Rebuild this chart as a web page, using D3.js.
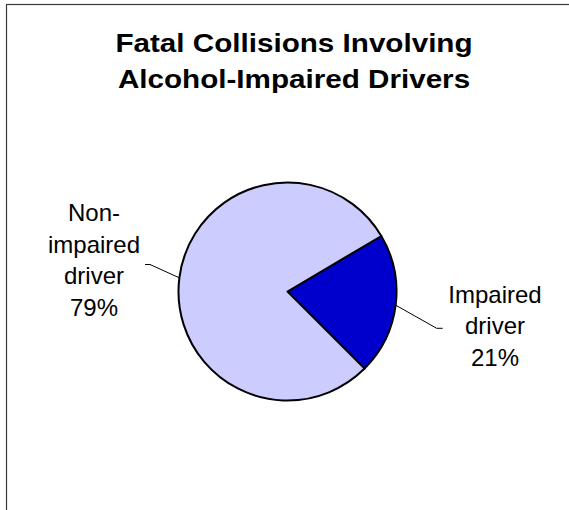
<!DOCTYPE html>
<html>
<head>
<meta charset="utf-8">
<script src="https://cdn.jsdelivr.net/npm/d3@7"></script>
<style>
  body { margin: 0; background: #fff; }
  text { font-family: Arial, "Liberation Sans", sans-serif; fill: #000; }
</style>
</head>
<body>
<svg></svg>
<script>
const size = {w: 569, h: 510};
const svg = d3.select('svg')
    .attr('width', size.w)
    .attr('height', size.h);

// data
const categories = ['Impaired driver', 'Non-impaired driver'];
const values = [21, 79];
const colors = ['#0000CC', '#CCCCFF'];
const titleLines = ['Fatal Collisions Involving', 'Alcohol-Impaired Drivers'];
const labelLines = [
    ['Impaired', 'driver', '21%'],
    ['Non-', 'impaired', 'driver', '79%']
];

// chart frame (runs off the right and bottom of the view)
svg.append('rect')
    .attr('x', 6.5).attr('y', 4.5)
    .attr('width', 700).attr('height', 700)
    .attr('fill', 'none')
    .attr('stroke', '#3a3a3a')
    .attr('stroke-width', 1.2);

// title, slightly stretched like the original
const titleG = svg.append('g');
titleLines.forEach((t, i) => {
    titleG.append('text')
        .attr('transform', `translate(294,${51.5 + i * 36}) scale(1.14,1)`)
        .attr('text-anchor', 'middle')
        .style('font-size', '26px')
        .style('font-weight', 'bold')
        .text(t);
});

// pie
const center = [287.5, 291.5];
const radius = 109;
const start = 59.4 * Math.PI / 180;

const pie = d3.pie()
    .sort(null)
    .startAngle(start)
    .endAngle(start + 2 * Math.PI);
const arcs = pie(values);

const arc = d3.arc().innerRadius(0).outerRadius(radius);
const edge = d3.arc().innerRadius(radius).outerRadius(radius);

const pieG = svg.append('g')
    .attr('transform', `translate(${center})`);

pieG.selectAll('path')
    .data(arcs)
    .join('path')
    .attr('d', arc)
    .attr('fill', (d, i) => colors[i])
    .attr('stroke', '#000')
    .attr('stroke-width', 2)
    .attr('stroke-linejoin', 'round');

// label placement (layout only)
const labelPos = [
    {x: 495, y: 302.5, lead: [[436.7, 328.3], [442.7, 328.3]]},
    {x: 94, y: 221, lead: [[150, 264.5], [145, 264.5]]}
];

const line = d3.line();
arcs.forEach((d, i) => {
    const c = edge.centroid(d);
    const p0 = [c[0] + center[0], c[1] + center[1]];
    svg.append('path')
        .attr('d', line([p0].concat(labelPos[i].lead)))
        .attr('fill', 'none')
        .attr('stroke', '#000')
        .attr('stroke-width', 1);

    const t = svg.append('text')
        .attr('text-anchor', 'middle')
        .style('font-size', '24px');
    labelLines[i].forEach((s, j) => {
        t.append('tspan')
            .attr('x', labelPos[i].x)
            .attr('y', labelPos[i].y + j * 31.5)
            .text(s);
    });
});
</script>
</body>
</html>
